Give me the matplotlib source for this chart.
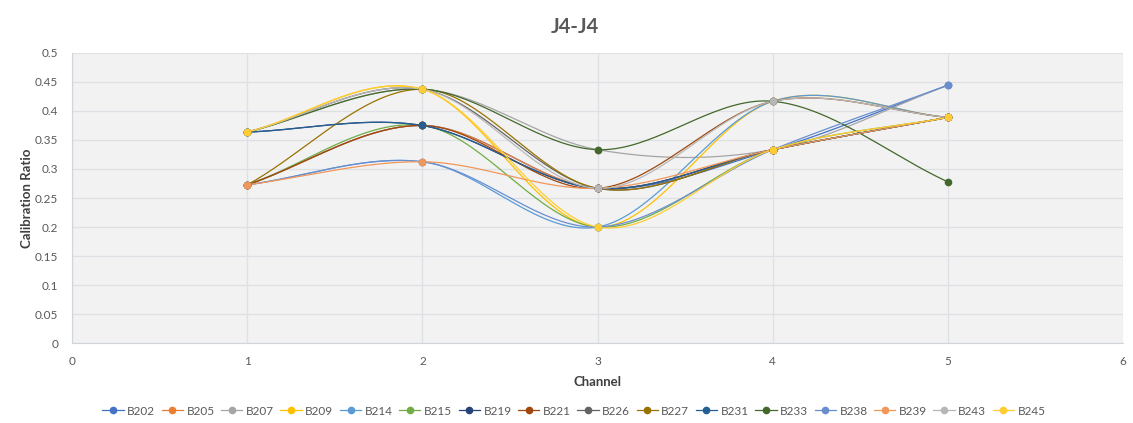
import numpy as np
import matplotlib
matplotlib.use('Agg')
import matplotlib.pyplot as plt
from matplotlib.lines import Line2D
from matplotlib.ticker import FuncFormatter

plt.rcParams['font.family'] = ['Lato', 'DejaVu Sans']

# channels and calibration ratio per board
channels = [1, 2, 3, 4, 5]
names = ['B202', 'B205', 'B207', 'B209', 'B214', 'B215', 'B219', 'B221',
         'B226', 'B227', 'B231', 'B233', 'B238', 'B239', 'B243', 'B245']
b202 = [0.2727, 0.375, 0.2667, 0.3333, 0.4444]
b205 = [0.2727, 0.375, 0.2667, 0.3333, 0.3889]
b207 = [0.3636, 0.4375, 0.3333, 0.3333, 0.4444]
b209 = [0.3636, 0.4375, 0.2, 0.4167, 0.3889]
b214 = [0.2727, 0.3125, 0.2, 0.4167, 0.3889]
b215 = [0.2727, 0.375, 0.2, 0.3333, 0.3889]
b219 = [0.3636, 0.375, 0.2667, 0.3333, 0.3889]
b221 = [0.2727, 0.375, 0.2667, 0.4167, 0.3889]
b226 = [0.3636, 0.4375, 0.2667, 0.3333, 0.3889]
b227 = [0.2727, 0.4375, 0.2667, 0.3333, 0.3889]
b231 = [0.3636, 0.375, 0.2667, 0.3333, 0.3889]
b233 = [0.3636, 0.4375, 0.3333, 0.4167, 0.2778]
b238 = [0.2727, 0.3125, 0.2, 0.3333, 0.4444]
b239 = [0.2727, 0.3125, 0.2667, 0.3333, 0.3889]
b243 = [0.3636, 0.4375, 0.2667, 0.4167, 0.3889]
b245 = [0.3636, 0.4375, 0.2, 0.3333, 0.3889]
series = [b202, b205, b207, b209, b214, b215, b219, b221,
          b226, b227, b231, b233, b238, b239, b243, b245]

colors = ['#4472C4', '#ED7D31', '#A5A5A5', '#FFC000', '#5B9BD5', '#70AD47',
          '#264478', '#9E480E', '#636363', '#997300', '#255E91', '#43682B',
          '#698ED0', '#F1975A', '#B7B7B7', '#FFCD33']


def smooth(x, y, n=40):
    # excel-like smoothed line: cubic bezier with catmull-rom tangents
    x = np.asarray(x, float)
    y = np.asarray(y, float)
    px = np.concatenate([[2 * x[0] - x[1]], x, [2 * x[-1] - x[-2]]])
    py = np.concatenate([[2 * y[0] - y[1]], y, [2 * y[-1] - y[-2]]])
    t = np.linspace(0, 1, n)
    xs, ys = [], []
    for i in range(1, len(px) - 2):
        p0 = np.array([px[i], py[i]])
        p3 = np.array([px[i + 1], py[i + 1]])
        p1 = p0 + (p3 - np.array([px[i - 1], py[i - 1]])) / 6
        p2 = p3 - (np.array([px[i + 2], py[i + 2]]) - p0) / 6
        b = ((1 - t) ** 3)[:, None] * p0 + (3 * (1 - t) ** 2 * t)[:, None] * p1 \
            + (3 * (1 - t) * t ** 2)[:, None] * p2 + (t ** 3)[:, None] * p3
        xs.append(b[:, 0])
        ys.append(b[:, 1])
    return np.concatenate(xs), np.concatenate(ys)


fig = plt.figure(figsize=(11.33, 4.23), dpi=100)
ax = fig.add_axes([0.0636, 0.189, 0.9276, 0.6858])
ax.set_facecolor('#F2F2F2')

for vals, c in zip(series, colors):
    sx, sy = smooth(channels, vals)
    ax.plot(sx, sy, color=c, lw=0.9, zorder=3)
    ax.plot(channels, vals, 'o', color=c, ms=4.5, zorder=4)

ax.set_xlim(0, 6)
ax.set_ylim(0, 0.5)
ax.set_xticks(range(0, 7))
ax.set_yticks(np.arange(0, 0.51, 0.05))
ax.yaxis.set_major_formatter(FuncFormatter(lambda v, p: '{:g}'.format(round(v, 2))))
ax.grid(True, color='#DDE1E6', lw=0.9, zorder=0)
ax.set_axisbelow(True)
for s in ['top', 'right']:
    ax.spines[s].set_visible(False)
ax.spines['left'].set_color('#D0D5DC')
ax.spines['bottom'].set_color('#D0D5DC')
ax.tick_params(length=0, labelsize=8.5, labelcolor='#595959')
ax.tick_params(axis='x', pad=9)
ax.tick_params(axis='y', pad=10)

fig.text(0.507, 0.935, 'J4-J4', ha='center', va='center', fontsize=14.5,
         fontweight='bold', color='#595959')
ax.set_xlabel('Channel', fontsize=9.5, fontweight='bold', color='#404040', labelpad=7)
ax.set_ylabel('Calibration Ratio', fontsize=9.5, fontweight='bold', color='#404040', labelpad=1)

handles = [Line2D([0], [0], color=c, lw=0.9, marker='o', ms=4.5) for c in colors]
fig.legend(handles, names, loc='lower center', ncol=16, frameon=False,
           bbox_to_anchor=(0.5066, -0.01), fontsize=8.5, handlelength=1.8,
           handletextpad=0.3, columnspacing=0.55, labelcolor='#595959')

fig.savefig('out.png', dpi=100)
